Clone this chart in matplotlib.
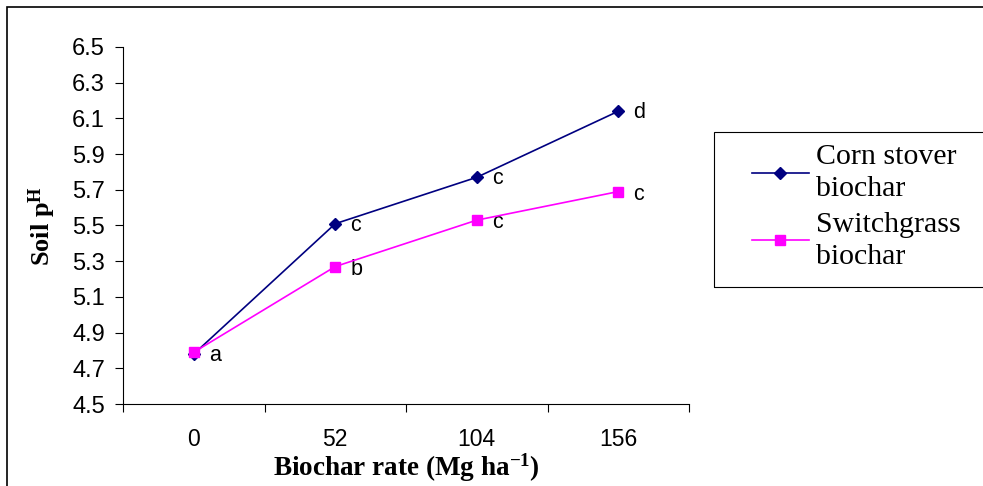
import matplotlib
matplotlib.use("Agg")
import matplotlib.pyplot as plt
from matplotlib.patches import Rectangle
from matplotlib.lines import Line2D

plt.rcParams["mathtext.fontset"] = "custom"
plt.rcParams["mathtext.rm"] = "Liberation Serif"
plt.rcParams["mathtext.bf"] = "Liberation Serif:bold"
plt.rcParams["mathtext.it"] = "Liberation Serif:italic"

categories = ["0", "52", "104", "156"]
corn_stover = [4.78, 5.51, 5.77, 6.14]
switchgrass = [4.79, 5.27, 5.53, 5.69]
corn_letters = ["", "c", "c", "d"]
switch_letters = ["a", "b", "c", "c"]
yticks = [4.5, 4.7, 4.9, 5.1, 5.3, 5.5, 5.7, 5.9, 6.1, 6.3, 6.5]

W, H = 983, 486
fig = plt.figure(figsize=(W / 100, H / 100), dpi=100)
fig.patches.append(Rectangle((7 / W, -0.05), 1.2, (H - 7) / H + 0.05, transform=fig.transFigure,
                             fill=False, edgecolor="black", linewidth=1.2))
# legend frame (extends past the right edge as in the reference)
fig.patches.append(Rectangle((714 / W, (H - 287) / H), 0.5, (287 - 132) / H, transform=fig.transFigure,
                             fill=False, edgecolor="black", linewidth=0.8))

ax = fig.add_axes([123 / W, (H - 404) / H, (689 - 123) / W, (404 - 47) / H])
x = list(range(len(categories)))
navy = "#000080"
mag = "#FF00FF"
ax.plot(x, corn_stover, color=navy, marker="D", markersize=6.5, linewidth=1.2,
        label="Corn stover\nbiochar", zorder=3)
ax.plot(x, switchgrass, color=mag, marker="s", markersize=7.5, linewidth=1.2,
        label="Switchgrass\nbiochar", zorder=4)

sans = ["Liberation Sans", "DejaVu Sans"]
serif = ["Liberation Serif", "DejaVu Serif"]
for i in x:
    if corn_letters[i]:
        ax.annotate(corn_letters[i], (i, corn_stover[i]), xytext=(11, -1), textcoords="offset points",
                    ha="left", va="center", fontsize=15.5, family=sans)
    if switch_letters[i]:
        ax.annotate(switch_letters[i], (i, switchgrass[i]), xytext=(11, -2), textcoords="offset points",
                    ha="left", va="center", fontsize=15.5, family=sans)

ax.set_xlim(-0.5, 3.5)
ax.set_ylim(4.5, 6.5)
ax.set_yticks(yticks)
ax.set_yticklabels([f"{v:.1f}" for v in yticks], family=sans, fontsize=17)
ax.set_xticks([-0.5, 0.5, 1.5, 2.5, 3.5])
ax.set_xticklabels([])
ax.set_xticks(x, minor=True)
ax.set_xticklabels(categories, minor=True, family=sans, fontsize=16.5)
ax.tick_params(axis="x", which="major", length=6, direction="out", width=0.8)
ax.tick_params(axis="x", which="minor", length=0, pad=17)
ax.tick_params(axis="y", length=6, width=0.8, pad=7)
for s in ["top", "right"]:
    ax.spines[s].set_visible(False)
for s in ["left", "bottom"]:
    ax.spines[s].set_linewidth(0.8)

ax.set_xlabel(r"Biochar rate (Mg ha$^{\mathbf{-1}}$)", family=serif, fontsize=19.5, fontweight="bold", labelpad=1)
ax.set_ylabel(r"Soil p$^{\mathbf{H}}$", family=serif, fontsize=19, fontweight="bold", labelpad=10)

handles = [Line2D([], [], color=navy, marker="D", markersize=6.5, linewidth=1.2),
           Line2D([], [], color=mag, marker="s", markersize=7.5, linewidth=1.2)]
leg = fig.legend(handles, ["Corn stover\nbiochar", "Switchgrass\nbiochar"],
                 loc="upper left", bbox_to_anchor=(752 / W, (H - 144) / H),
                 prop={"family": serif, "size": 21.5}, frameon=False,
                 handlelength=1.9, handletextpad=0.25, labelspacing=0.32,
                 borderpad=0, borderaxespad=0)
for t in leg.get_texts():
    t.set_linespacing(1.3)

fig.savefig("out.png", dpi=100)
